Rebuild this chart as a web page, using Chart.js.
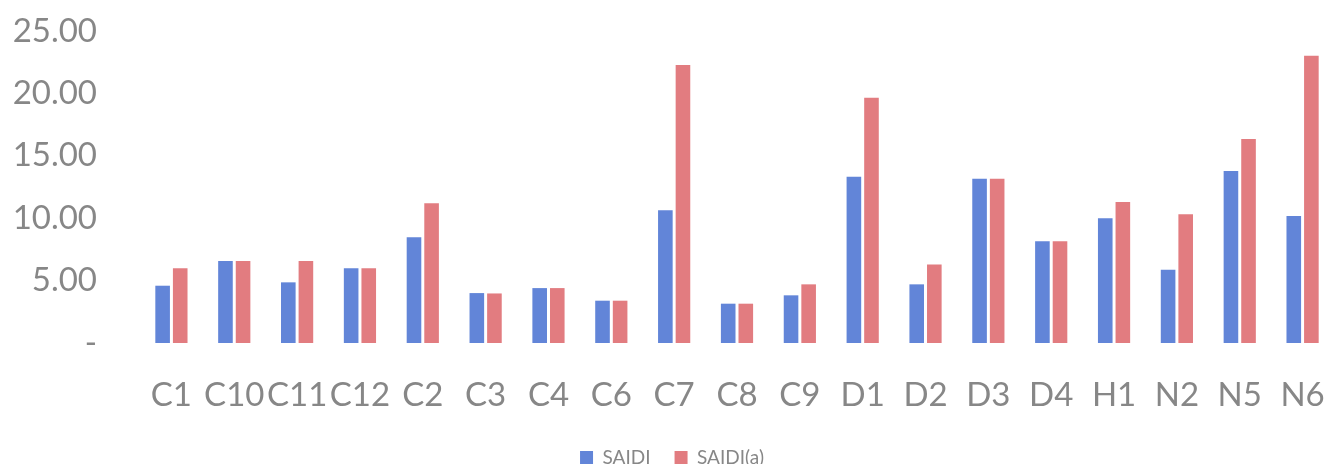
<!DOCTYPE html>
<html>
<head>
<meta charset="utf-8">
<script src="https://cdn.jsdelivr.net/npm/chart.js@4/dist/chart.umd.min.js"></script>
<style>
  html, body { margin: 0; padding: 0; background: #fff; overflow: hidden; }
  #wrap { width: 1342px; height: 477px; }
</style>
</head>
<body>
<div id="wrap"><canvas id="myChart"></canvas></div>
<script>
// categories and values
const feeders = ['C1','C10','C11','C12','C2','C3','C4','C6','C7','C8','C9','D1','D2','D3','D4','H1','N2','N5','N6'];
const saidi  = [4.59, 6.57, 4.86, 5.98, 8.47, 4.00, 4.40, 3.39, 10.63, 3.15, 3.82, 13.33, 4.70, 13.17, 8.15, 9.99, 5.87, 13.78, 10.18];
const saidiA = [5.98, 6.57, 6.57, 5.98, 11.19, 3.97, 4.40, 3.39, 22.28, 3.15, 4.70, 19.66, 6.30, 13.17, 8.15, 11.30, 10.31, 16.35, 23.02];
const yTicks = [0, 5, 10, 15, 20, 25];

const grey = '#878787';
const fontName = 'Lato, "Open Sans", sans-serif';

chartIt();
function chartIt(){
  const ctx = document.getElementById('myChart').getContext('2d');
  const myChart = new Chart(ctx, {
    type: 'bar',
    data: {
      labels: feeders,
      datasets: [{
        label: 'SAIDI',
        data: saidi,
        backgroundColor: 'rgb(98, 133, 216)'
      },{
        label: 'SAIDI(a)',
        data: saidiA,
        backgroundColor: 'rgb(226, 124, 128)'
      }]
    },
    options: {
      responsive: true,
      maintainAspectRatio: false,
      animation: false,
      categoryPercentage: 0.56,
      barPercentage: 0.83,
      layout: { padding: { left: 10, top: 0, right: 8, bottom: 0 } },
      plugins: {
        tooltip: { enabled: false },
        legend: {
          position: 'bottom',
          labels: {
            color: grey,
            font: { family: fontName, size: 19 },
            boxWidth: 13,
            boxHeight: 13,
            padding: 24
          }
        }
      },
      scales: {
        x: {
          grid: { display: false, drawTicks: false },
          border: { display: false },
          // fixed axis sizes so the plot sits where the original does
          afterFit: axis => { axis.height = 81; axis.paddingLeft = 0; axis.paddingRight = 0; },
          ticks: {
            color: grey,
            font: { family: fontName, size: 33 },
            padding: 33,
            maxRotation: 0,
            autoSkip: false
          }
        },
        y: {
          min: yTicks[0],
          max: yTicks[yTicks.length - 1],
          grid: { display: false, drawTicks: false },
          border: { display: false },
          afterFit: axis => { axis.width = 130; axis.paddingTop = 31; axis.paddingBottom = 0; },
          afterBuildTicks: axis => { axis.ticks = yTicks.map(v => ({ value: v })); },
          ticks: {
            color: grey,
            font: { family: fontName, size: 33 },
            padding: 43,
            callback: v => v === 0 ? '-' : Number(v).toFixed(2)
          }
        }
      }
    }
  });
}
</script>
</body>
</html>
